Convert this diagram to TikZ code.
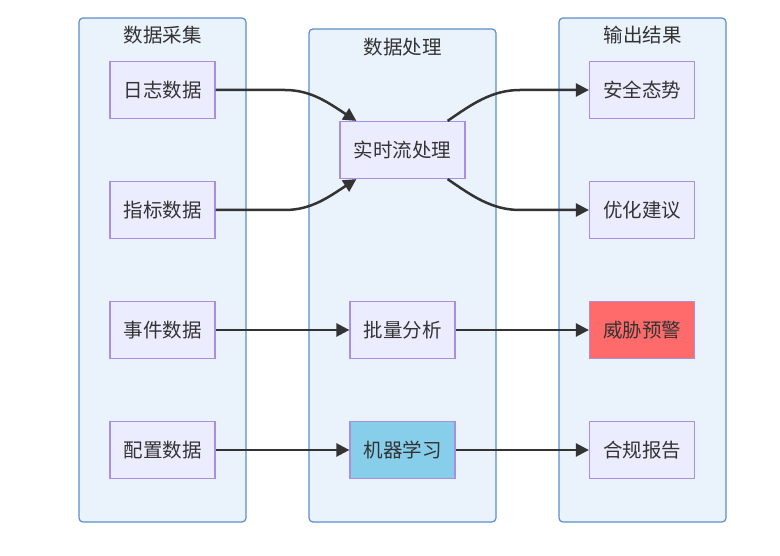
\documentclass[tikz,border=0pt]{standalone}
\usepackage{fontspec}
\setmainfont{Noto Sans CJK SC}
\usetikzlibrary{arrows.meta,calc}
\definecolor{clfill}{HTML}{EAF2FC}
\definecolor{cldraw}{HTML}{5B8FCB}
\definecolor{ndfill}{HTML}{ECECFF}
\definecolor{nddraw}{HTML}{A98FE0}
\definecolor{txt}{HTML}{333333}
\definecolor{redfill}{HTML}{FF6B6B}
\definecolor{bluefill}{HTML}{87CEEB}
\begin{document}
\begin{tikzpicture}[x=1pt,y=-1pt,
  cluster/.style={draw=cldraw,fill=clfill,line width=1.2pt,rounded corners=4pt,inner sep=0pt},
  ttl/.style={text=txt,font=\fontsize{19.5}{22}\selectfont,inner sep=0pt},
  box/.style={draw=nddraw,fill=ndfill,line width=1.2pt,text=txt,font=\fontsize{19.5}{22}\selectfont,
    minimum width=105pt,minimum height=57pt,inner sep=0pt},
  conn/.style={draw=txt,line width=2.5pt,-{Triangle[length=13pt,width=13pt]}}]
\useasboundingbox (0,0) rectangle (780,556);
% clusters
\node[cluster,minimum width=167pt,minimum height=504pt] (c1) at (162.5,270) {};
\node[cluster,minimum width=187pt,minimum height=493pt] (c2) at (402.5,275.5) {};
\node[cluster,minimum width=167pt,minimum height=504pt] (c3) at (642.5,270) {};
\node[ttl] (t1) at (162.5,35) {数据采集};
\node[ttl] (t2) at (402.5,47) {数据处理};
\node[ttl] (t3) at (642.5,35) {输出结果};
% left nodes
\node[box] (log) at (162.5,90) {日志数据};
\node[box] (met) at (162.5,210) {指标数据};
\node[box] (evt) at (162.5,330) {事件数据};
\node[box] (cfg) at (162.5,450) {配置数据};
% middle
\node[box,minimum width=125pt] (rt) at (402.5,150) {实时流处理};
\node[box] (bat) at (402.5,330) {批量分析};
\node[box,fill=bluefill] (ml) at (402.5,450) {机器学习};
% right
\node[box] (sec) at (642,90) {安全态势};
\node[box] (opt) at (642,210) {优化建议};
\node[box,fill=redfill] (thr) at (642,330) {威胁预警};
\node[box] (cmp) at (642,450) {合规报告};
% connectors
\draw[conn] (log.east) -- (285,90) .. controls (312,90) and (330,104) .. ($(rt.north west)+(17,0)$);
\draw[conn] (met.east) -- (285,210) .. controls (312,210) and (330,196) .. ($(rt.south west)+(17,0)$);
\draw[conn] ($(rt.north east)+(-18,0)$) .. controls (472,104) and (492,90) .. (520,90) -- (sec.west);
\draw[conn] ($(rt.south east)+(-18,0)$) .. controls (472,196) and (492,210) .. (520,210) -- (opt.west);
\draw[conn] (evt.east) -- (bat.west);
\draw[conn] (bat.east) -- (thr.west);
\draw[conn] (cfg.east) -- (ml.west);
\draw[conn] (ml.east) -- (cmp.west);
\end{tikzpicture}
\end{document}
